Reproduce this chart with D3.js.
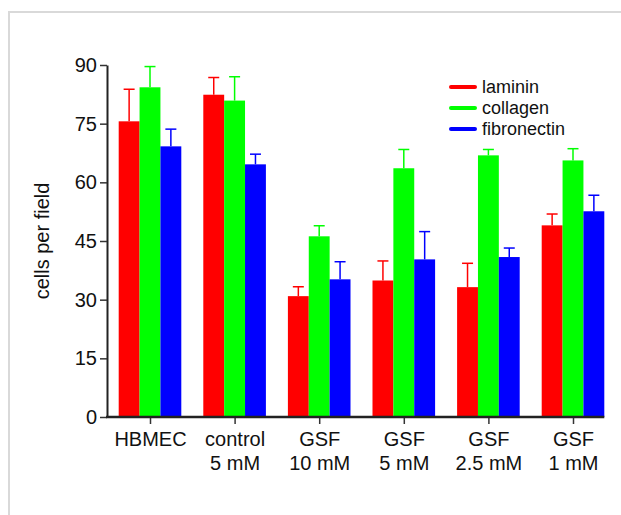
<!DOCTYPE html>
<html><head><meta charset="utf-8">
<script src="https://cdn.jsdelivr.net/npm/d3@7"></script>
<style>
html,body{margin:0;padding:0;background:#fff;}
svg{display:block;font-family:"Liberation Sans",Arial,sans-serif;}
</style></head>
<body>
<svg id="chart" width="621" height="515"></svg>
<script>
const categories = [["HBMEC"],["control","5 mM"],["GSF","10 mM"],["GSF","5 mM"],["GSF","2.5 mM"],["GSF","1 mM"]];
const seriesNames = ["laminin","collagen","fibronectin"];
const seriesColors = ["#ff0000","#00ff00","#0000ff"];
const laminin     = [75.6, 82.4, 30.9, 34.9, 33.2, 49.0];
const collagen    = [84.3, 80.9, 46.2, 63.6, 66.9, 65.6];
const fibronectin = [69.2, 64.6, 35.2, 40.3, 40.9, 52.6];
const lamininErr     = [8.2, 4.4, 2.4, 5.0, 6.1, 2.9];
const collagenErr    = [5.3, 6.1, 2.7, 4.8, 1.5, 3.0];
const fibronectinErr = [4.4, 2.6, 4.5, 7.1, 2.3, 4.1];
const yTicks = [0,15,30,45,60,75,90];

const values = [laminin, collagen, fibronectin];
const errs = [lamininErr, collagenErr, fibronectinErr];

const svg = d3.select("#chart");
// frame
svg.append("rect").attr("x",9).attr("y",12).attr("width",640).attr("height",540)
  .attr("fill","none").attr("stroke","#d9d9d9").attr("stroke-width",2);

const y = d3.scaleLinear().domain([0,90]).range([417,65]);
const x0 = d3.scaleBand().domain(d3.range(categories.length)).range([107.7,615.3])
  .paddingInner(0.26).paddingOuter(0.13);
const x1 = d3.scaleBand().domain(d3.range(seriesNames.length)).range([0,x0.bandwidth()]);

// bars
const g = svg.append("g");
categories.forEach((c,i)=>{
  seriesNames.forEach((s,j)=>{
    const v = values[j][i], e = errs[j][i];
    const bx = x0(i)+x1(j);
    const cx = bx + x1.bandwidth()/2;
    g.append("line").attr("x1",cx).attr("x2",cx).attr("y1",y(v)).attr("y2",y(v+e))
      .attr("stroke",seriesColors[j]).attr("stroke-width",1.5);
    g.append("line").attr("x1",cx-5.5).attr("x2",cx+5.5).attr("y1",y(v+e)).attr("y2",y(v+e))
      .attr("stroke",seriesColors[j]).attr("stroke-width",1.5);
    g.append("rect").attr("x",bx).attr("y",y(v)).attr("width",x1.bandwidth())
      .attr("height",y(0)-y(v)).attr("fill",seriesColors[j]);
  });
});

// y axis
const ya = svg.append("g").attr("transform","translate(107,0)")
  .call(d3.axisLeft(y).tickValues(yTicks).tickSize(7).tickSizeOuter(0).tickPadding(3));
ya.select(".domain").attr("stroke","#222").attr("stroke-width",2);
ya.selectAll(".tick line").attr("stroke","#333").attr("stroke-width",1.5);
ya.selectAll(".tick text").attr("font-size",20).attr("fill","#111")
  .attr("font-family","Liberation Sans, Arial, sans-serif");

// x axis
const xEnd = x0(categories.length-1)+x0.bandwidth();
const xa = svg.append("g").attr("transform","translate(0,417)")
  .call(d3.axisBottom(d3.scalePoint().domain(d3.range(categories.length))
      .range([x0(0)+x0.bandwidth()/2, x0(categories.length-1)+x0.bandwidth()/2]))
      .tickSize(7).tickSizeOuter(0).tickFormat(""));
xa.select(".domain").remove();
xa.append("line").attr("x1",106).attr("x2",xEnd).attr("y1",0).attr("y2",0)
  .attr("stroke","#222").attr("stroke-width",2.5);
xa.selectAll(".tick line").attr("stroke","#333").attr("stroke-width",1.5);
xa.selectAll(".tick").each(function(d){
  const t = d3.select(this).append("text").attr("fill","#111").attr("font-size",20)
    .attr("text-anchor","middle").attr("font-family","Liberation Sans, Arial, sans-serif");
  categories[d].forEach((line,k)=>{
    t.append("tspan").attr("x",0).attr("y",29+k*24).text(line);
  });
});

// y label
svg.append("text").attr("transform","translate(49,241) rotate(-90)")
  .attr("text-anchor","middle").attr("font-size",20).attr("fill","#111").text("cells per field");

// legend
const lg = svg.append("g").attr("transform","translate(450,87)");
seriesNames.forEach((s,j)=>{
  const r = lg.append("g").attr("transform",`translate(0,${j*21})`);
  r.append("line").attr("x1",1).attr("x2",25).attr("y1",0).attr("y2",0)
    .attr("stroke",seriesColors[j]).attr("stroke-width",4).attr("stroke-linecap","round");
  r.append("text").attr("x",32).attr("y",0).attr("dy","0.35em").attr("font-size",18)
    .attr("fill","#111").text(s);
});
</script>
</body></html>
